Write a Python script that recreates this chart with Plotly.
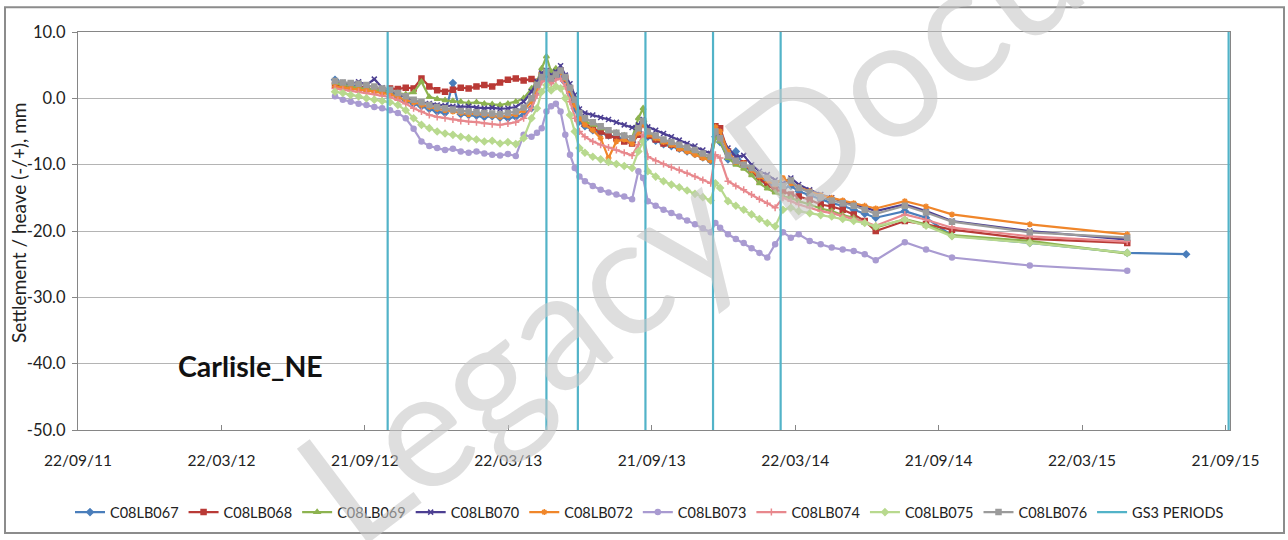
import plotly.graph_objects as go

# Survey dates shared by the settlement monitoring points
dates = [
    "2012-08-14", "2012-08-24", "2012-09-03", "2012-09-13", "2012-09-23", "2012-10-03", "2012-10-13", "2012-10-23",
    "2012-11-02", "2012-11-12", "2012-11-22", "2012-12-02", "2012-12-12", "2012-12-22",
    "2013-01-01", "2013-01-11", "2013-01-21", "2013-01-31", "2013-02-10", "2013-02-20", "2013-03-02", "2013-03-12",
    "2013-03-22", "2013-04-01", "2013-04-11", "2013-04-21",
    "2013-04-28", "2013-05-04", "2013-05-10", "2013-05-16", "2013-05-22", "2013-05-28", "2013-06-03", "2013-06-09",
    "2013-06-15", "2013-06-21", "2013-06-28",
    "2013-07-08", "2013-07-18", "2013-07-28", "2013-08-07", "2013-08-17", "2013-08-27", "2013-09-04", "2013-09-10",
    "2013-09-16", "2013-09-26", "2013-10-06", "2013-10-16", "2013-10-26", "2013-11-05", "2013-11-15", "2013-11-25",
    "2013-12-05",
    "2013-12-11", "2013-12-17", "2013-12-27", "2014-01-06", "2014-01-16", "2014-01-26", "2014-02-05", "2014-02-15",
    "2014-02-25", "2014-03-07", "2014-03-17", "2014-03-27", "2014-04-10", "2014-04-24", "2014-05-08", "2014-05-22",
    "2014-06-05", "2014-06-19",
    "2014-07-03", "2014-08-09", "2014-09-05", "2014-10-08", "2015-01-15", "2015-05-19",
]

# Settlement (-) / heave (+) in mm for each monitoring point
C08LB067 = [2.8, 2.2, 2.0, 1.8, 1.5, 1.2, 1.0, 0.8,
            0.2, -0.4, -0.8, -1.2, -1.6, -2.0,
            -2.2, 2.3, -2.4, -2.5, -2.6, -2.8, -2.7, -2.9, -3.0, -2.8, -2.5, -1.5,
            1.0, 2.8, 3.4, 2.6, 3.2, 3.5, 2.4, 0.8, -1.5, -3.5, -4.2,
            -4.8, -5.2, -5.6, -5.8, -6.2, -6.6, -5.0, -3.5, -5.8, -6.4, -6.9, -7.2, -7.6, -8.0, -8.4, -8.9, -9.4,
            -5.8, -6.6, -9.2, -8.0, -10.2, -11.0, -12.0, -12.8, -13.3, -13.6, -13.2, -14.0, -14.6, -15.3, -15.8,
            -16.2, -16.8, -17.4,
            -18.0, -17.0, -18.0, -20.7, -21.8, -23.3,
            -23.5]
C08LB067_dates = dates + ["2015-08-02"]

C08LB068 = [2.0, 1.8, 1.6, 1.8, 1.5, 1.4, 1.3, 1.5,
            1.4, 1.6, 1.5, 3.0, 1.8, 1.2,
            1.0, 1.3, 1.6, 1.5, 1.8, 2.0, 1.8, 2.4, 2.8, 3.0, 2.7, 2.9,
            2.5, 3.5, 4.0, 3.2, 3.8, 4.2, 3.0, 1.5, -0.5, -3.0, -3.8,
            -4.5, -5.0, -5.6, -6.0, -6.5, -6.8, -5.5, -3.8, -5.6, -6.2, -6.8, -7.0, -7.5, -7.8, -8.2, -8.8, -9.2,
            -4.2, -4.5, -8.0, -9.5, -9.8, -11.0, -12.2, -13.0, -13.8, -14.0, -14.5, -14.8, -15.3, -16.0, -16.3,
            -16.8, -17.5, -18.5,
            -20.0, -18.5, -19.0, -19.8, -21.2, -21.8]

C08LB069 = [2.3, 2.0, 1.8, 1.6, 1.4, 1.3, 1.2, 1.0,
            0.8, 0.6, 0.9, 2.5, 0.2, -0.1,
            -0.3, -0.4, -0.5, -0.7, -0.6, -0.8, -0.9, -1.0, -0.8, -0.5, 0.0, 1.5,
            2.5, 4.5, 6.3, 4.0, 4.5, 4.0, 3.0, 1.5, -0.5, -2.5, -3.5,
            -4.0, -4.5, -4.9, -5.2, -5.6, -6.0, -3.0, -1.5, -5.2, -6.0, -6.6, -7.0, -7.4, -7.9, -8.3, -8.8, -9.3,
            -6.0, -6.5, -9.0, -10.0, -10.6, -11.6, -12.8, -13.6, -14.2, -14.8, -15.0, -15.5, -16.0, -16.6, -17.0,
            -17.6, -18.0, -18.8,
            -19.5, -18.2, -19.0, -20.6, -21.5, -23.4]

C08LB070 = [2.6, 2.4, 2.2, 2.5, 2.0, 2.9, 1.6, 1.2,
            0.6, 0.2, -0.3, -0.6, -0.8, -1.0,
            -1.1, -1.2, -1.3, -1.2, -1.4, -1.5, -1.4, -1.6, -1.5, -1.3, -0.5, 1.0,
            2.5, 3.8, 4.2, 3.5, 4.0, 4.9, 3.5, 2.2, 0.5, -1.6, -2.2,
            -2.5, -2.9, -3.2, -3.6, -4.0, -4.4, -4.0, -3.2, -4.3, -4.8, -5.3, -5.8, -6.3, -6.8, -7.2, -7.8, -8.3,
            -5.0, -5.5, -7.5, -8.8, -8.6, -10.0, -11.0, -11.5, -12.3, -12.8, -12.0, -13.0, -13.8, -14.5, -15.0,
            -15.6, -16.0, -16.4,
            -17.0, -16.0, -17.0, -18.5, -20.0, -21.3]

C08LB072 = [1.8, 1.6, 1.5, 1.3, 1.2, 1.0, 0.8, 0.6,
            0.2, -0.3, -0.6, -1.0, -1.3, -1.6,
            -1.8, -2.0, -2.2, -2.4, -2.3, -2.5, -2.6, -2.8, -2.6, -2.4, -1.8, -0.5,
            1.5, 3.0, 3.8, 3.0, 3.5, 4.0, 3.0, 1.2, -1.0, -3.0, -4.0,
            -4.8, -6.0, -9.0, -6.5, -6.2, -6.8, -5.2, -3.8, -5.5, -6.0, -6.6, -7.0, -7.6, -8.0, -8.5, -9.0, -9.4,
            -4.3, -5.0, -8.0, -9.6, -9.8, -10.8, -11.8, -12.4, -13.0, -12.0, -12.8, -13.4, -14.0, -14.6, -15.0,
            -15.4, -15.8, -16.2,
            -16.6, -15.5, -16.3, -17.5, -19.0, -20.5]

C08LB073 = [0.3, -0.2, -0.5, -0.8, -1.0, -1.3, -1.5, -1.8,
            -2.2, -3.0, -4.6, -6.5, -7.2, -7.5,
            -7.8, -7.6, -8.0, -8.2, -8.0, -8.3, -8.5, -8.6, -8.4, -8.7, -5.5, -5.8,
            -5.2, -4.5, -2.0, -1.2, -0.8, -2.0, -5.5, -8.5, -10.5, -11.8, -12.5,
            -13.2, -13.8, -14.2, -14.5, -14.8, -15.2, -11.0, -12.0, -15.5, -16.2, -16.8, -17.3, -17.8, -18.4, -19.0,
            -19.6, -20.2,
            -18.8, -19.5, -20.5, -21.2, -21.8, -22.6, -23.3, -24.0, -22.0, -20.2, -21.0, -20.5, -21.5, -22.0, -22.5,
            -22.8, -23.0, -23.5,
            -24.4, -21.7, -22.8, -24.0, -25.2, -26.0]

C08LB074 = [1.5, 1.3, 1.1, 1.0, 0.8, 0.6, 0.4, 0.2,
            -0.3, -0.8, -1.5, -2.0, -2.5, -2.8,
            -3.0, -3.2, -3.4, -3.5, -3.6, -3.8, -3.9, -4.0, -3.8, -3.6, -3.0, -1.5,
            0.5, 2.5, 3.0, 2.2, 2.8, 3.0, 1.8, -0.5, -3.0, -5.0, -5.8,
            -6.5, -7.0, -7.4, -7.8, -8.2, -8.6, -7.0, -5.5, -8.8, -9.4, -9.9, -10.4, -10.8, -11.3, -11.8, -12.3,
            -12.8,
            -8.5, -9.0, -12.5, -13.2, -13.8, -14.5, -15.2, -15.8, -16.5, -15.0, -15.5, -16.0, -16.5, -17.0, -17.3,
            -17.8, -18.2, -18.6,
            -19.2, -17.5, -18.3, -19.5, -20.8, -21.6]

C08LB075 = [1.0, 0.8, 0.5, 0.3, 0.0, -0.2, -0.4, -0.6,
            -1.0, -1.8, -3.0, -4.0, -4.5, -5.0,
            -5.3, -5.5, -5.8, -6.0, -6.2, -6.5, -6.4, -6.8, -6.6, -6.9, -6.0, -3.0,
            -1.5, 1.0, 2.0, 1.2, 1.8, 1.5, 0.0, -2.5, -5.0, -7.5, -8.2,
            -8.8, -9.2, -9.6, -9.9, -10.2, -10.5, -8.0, -6.5, -11.0, -11.8, -12.5, -13.0, -13.4, -13.9, -14.4,
            -14.9, -15.4,
            -12.8, -13.5, -15.5, -16.2, -16.8, -17.5, -18.2, -18.8, -19.3, -16.8, -16.5, -17.0, -17.3, -17.6,
            -17.8, -18.2, -18.5, -18.8,
            -19.3, -18.3, -19.2, -20.8, -21.8, -23.3]

C08LB076 = [2.6, 2.4, 2.3, 2.2, 2.0, 1.8, 1.5, 1.3,
            0.8, 0.3, -0.2, -0.6, -1.0, -1.3,
            -1.5, -1.7, -1.9, -2.0, -2.1, -2.2, -2.3, -2.4, -2.2, -2.0, -1.4, 0.0,
            2.0, 3.2, 4.0, 3.0, 3.6, 4.2, 3.2, 1.6, -0.2, -2.2, -3.0,
            -3.6, -4.2, -4.8, -5.2, -5.6, -6.0, -4.5, -3.4, -5.0, -5.6, -6.2, -6.6, -7.0, -7.4, -7.8, -8.3, -8.8,
            -5.0, -6.0, -8.6, -9.4, -10.0, -10.5, -11.5, -12.0, -12.8, -13.2, -12.4, -13.5, -14.2, -14.9, -15.4,
            -15.8, -16.2, -16.8,
            -17.4, -16.2, -17.2, -18.6, -20.2, -21.0]

# GS3 construction periods, drawn as full-height vertical markers
gs3_dates = ["2012-10-20", "2013-05-10", "2013-06-19", "2013-09-13", "2013-12-08", "2014-03-04", "2015-09-25"]

y_min, y_max = -50, 10
y_ticks = [10, 0, -10, -20, -30, -40, -50]
y_labels = ["10.0", "0.0", "-10.0", "-20.0", "-30.0", "-40.0", "-50.0"]

x_ticks = ["2011-09-22", "2012-03-22 12:00", "2012-09-21", "2013-03-22 12:00", "2013-09-21",
           "2014-03-22 12:00", "2014-09-21", "2015-03-22 12:00", "2015-09-21"]
x_labels = ["22/09/11", "22/03/12", "21/09/12", "22/03/13", "21/09/13",
            "22/03/14", "21/09/14", "22/03/15", "21/09/15"]
x_range = ["2011-09-22", "2015-09-26 18:00"]

FONT = "Lato"

series = [
    ("C08LB067", C08LB067_dates, C08LB067, "#4A7EBB", "diamond"),
    ("C08LB068", dates, C08LB068, "#B93A36", "square"),
    ("C08LB069", dates, C08LB069, "#8DB350", "triangle-up"),
    ("C08LB070", dates, C08LB070, "#4C3F92", "x-thin-open"),
    ("C08LB072", dates, C08LB072, "#F0862A", "asterisk-open"),
    ("C08LB073", dates, C08LB073, "#A99BD1", "circle"),
    ("C08LB074", dates, C08LB074, "#E8888D", "cross-thin-open"),
    ("C08LB075", dates, C08LB075, "#B8D98E", "diamond"),
    ("C08LB076", dates, C08LB076, "#9B9B9B", "square"),
]

fig = go.Figure()

for name, xs, ys, color, symbol in series:
    fig.add_trace(go.Scatter(
        x=xs, y=ys, name=name, mode="lines+markers",
        line=dict(color=color, width=2.2),
        marker=dict(symbol=symbol, size=5, color=color, line=dict(color=color, width=1.5)),
    ))

gs3_x, gs3_y = [], []
for d in gs3_dates:
    gs3_x += [d, d, None]
    gs3_y += [y_min, y_max, None]
fig.add_trace(go.Scatter(
    x=gs3_x, y=gs3_y, name="GS3 PERIODS", mode="lines",
    line=dict(color="#52B3C8", width=2.2),
))

# paper-coordinate helpers for the plot area (left 78, right 1230, top 32, bottom 434 px)
PL, PR, PT, PB = 78, 1230, 32, 434
def px(xp):
    return (xp - PL) / (PR - PL)
def py(yp):
    return (PB - yp) / (PB - PT)

fig.update_layout(
    width=1288, height=540,
    margin=dict(l=PL, r=1288 - PR, t=PT, b=540 - PB),
    paper_bgcolor="white", plot_bgcolor="white",
    font=dict(family=FONT, size=15, color="#222222"),
    showlegend=True,
    legend=dict(
        orientation="h", x=px(70), xanchor="left", y=py(517), yanchor="middle",
        font=dict(family=FONT, size=14.5, color="#222222"),
        itemwidth=30, tracegroupgap=0, bgcolor="rgba(0,0,0,0)",
    ),
    xaxis=dict(
        type="date", range=x_range,
        tickvals=x_ticks, ticktext=x_labels,
        ticks="inside", ticklen=5, tickcolor="#868686",
        showgrid=False, zeroline=False,
        showline=True, linecolor="#868686", linewidth=1.3, mirror=True,
        tickfont=dict(family=FONT, size=15.5, color="#222222"),
        ticklabelstandoff=16,
    ),
    yaxis=dict(
        range=[y_min, y_max],
        tickvals=y_ticks, ticktext=y_labels,
        ticks="outside", ticklen=5, tickcolor="#868686",
        showgrid=True, gridcolor="#B4B4B4", gridwidth=1.2,
        zeroline=False,
        showline=True, linecolor="#868686", linewidth=1.3, mirror=True,
        tickfont=dict(family=FONT, size=16.5, color="#222222"),
        ticklabelstandoff=3,
    ),
)

fig.add_annotation(
    text="Settlement / heave (-/+), mm", textangle=-90,
    xref="paper", yref="paper", x=px(18), y=py(225),
    xanchor="center", yanchor="middle", showarrow=False,
    font=dict(family=FONT, size=19, color="#222222"),
)

fig.add_annotation(
    text="<b>Carlisle_NE</b>",
    xref="paper", yref="paper", x=px(250), y=py(369),
    xanchor="center", yanchor="middle", showarrow=False,
    font=dict(family=FONT, size=28.5, color="#111111"),
)

# outer chart border
fig.add_shape(
    type="rect", xref="paper", yref="paper",
    x0=px(5), x1=px(1284), y0=py(538), y1=py(7),
    line=dict(color="#8C8C8C", width=2), layer="below",
)

# document watermark
fig.add_annotation(
    text="Legacy Document",
    xref="paper", yref="paper", x=px(835), y=py(112),
    xanchor="center", yanchor="middle", showarrow=False, textangle=-37,
    font=dict(family=FONT, size=165, color="rgba(200,200,200,0.6)"),
)

fig.write_html("out.html")
